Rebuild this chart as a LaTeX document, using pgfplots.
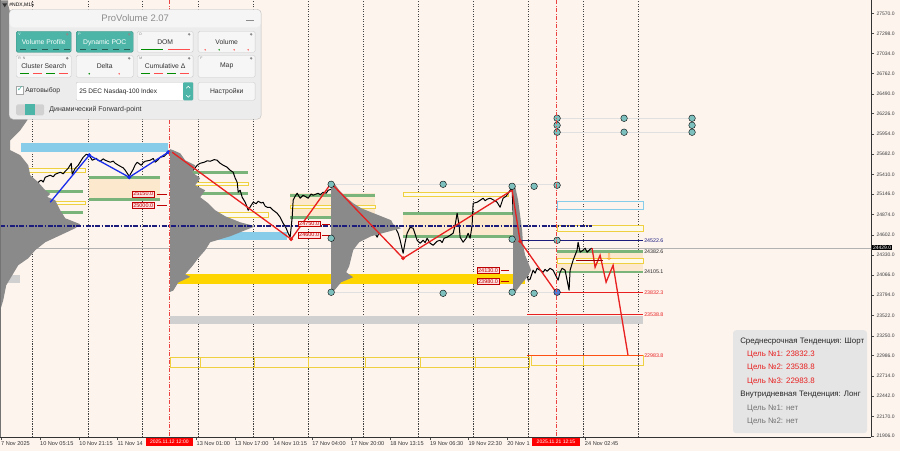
\documentclass[border=0pt]{standalone}
\usepackage{pgfplots}
\pgfplotsset{compat=1.18}
\usepackage{fontspec}
\setmainfont{Liberation Sans}
\newfontfamily\dejavu{DejaVu Sans}

\definecolor{bgc}{RGB}{253,244,238}
\definecolor{beige}{RGB}{252,232,204}
\definecolor{greenz}{RGB}{122,180,122}
\definecolor{yelz}{RGB}{238,208,64}
\definecolor{goldz}{RGB}{255,213,0}
\definecolor{skyz}{RGB}{135,204,232}
\definecolor{grayz}{RGB}{208,208,208}
\definecolor{profz}{RGB}{138,138,138}
\definecolor{navyz}{RGB}{28,28,125}
\definecolor{bluez}{RGB}{25,45,235}
\definecolor{redz}{RGB}{232,32,32}
\definecolor{orz}{RGB}{255,80,20}
\definecolor{tealz}{RGB}{125,192,190}
\definecolor{panelbg}{RGB}{236,236,236}
\definecolor{btn}{RGB}{246,246,246}
\definecolor{tealb}{RGB}{76,181,167}

% rectangle zone / horizontal level in axis units (x = bar position, y = price)
\newcommand{\zone}[5]{\addplot[#5] coordinates {(#1,#3) (#2,#3) (#2,#4) (#1,#4)} -- cycle;}
\newcommand{\hl}[4]{\addplot[#4] coordinates {(#1,#3) (#2,#3)};}
\newcommand{\tk}{\fontsize{5}{5}\selectfont}
\newcommand{\xtk}{\fontsize{5.6}{6}\selectfont}
\newcommand{\bff}{\fontsize{6.8}{7}\selectfont}

\begin{document}
\begin{tikzpicture}
\fill[bgc] (0pt,-14pt) rectangle (900pt,437pt);
\begin{axis}[
  at={(0pt,0pt)}, anchor=south west,
  width=871pt, height=437pt, scale only axis,
  xmin=0, xmax=871, ymin=21893, ymax=27744,
  scaled y ticks=false, scaled x ticks=false,
  axis x line*=bottom, axis y line*=right,
  axis line style={black!80, line width=0.5pt, -},
  tick align=outside, major tick length=3pt,
  tick style={black!70, line width=0.4pt},
  ytick={21906,22170,22442,22714,22986,23250,23522,23794,24066,24330,24602,24874,25146,25410,25682,25954,26226,26490,26762,27034,27298,27570},
  yticklabels={21906.0,22170.0,22442.0,22714.0,22986.0,23250.0,23522.0,23794.0,24066.0,24330.0,24602.0,24874.0,25146.0,25410.0,25682.0,25954.0,26226.0,26490.0,26762.0,27034.0,27298.0,27570.0},
  y tick label style={font=\tk, text=black!75, xshift=-1pt},
  xtick={0.7,39.7,79,117.3,156,196.3,234.7,273.3,312,350.7,390,429.7,468.3,507,546,584.7},
  xticklabels={7 Nov 2025,10 Nov 05:15,10 Nov 21:15,11 Nov 14,{},13 Nov 01:00,13 Nov 17:00,14 Nov 10:15,17 Nov 04:00,17 Nov 20:00,18 Nov 13:15,19 Nov 06:30,19 Nov 22:30,20 Nov 1,{},24 Nov 02:45},
  x tick label style={anchor=north west, font=\xtk, text=black!80, xshift=-1pt, inner sep=1pt},
  extra x ticks={32,87.5,142.5,198,253.5,308.5,363,418,473.5,528.5,583.5,638.5},
  extra x tick labels={},
  extra x tick style={grid=major, major tick length=0pt,
    major grid style={black!75, dash pattern=on 1.2pt off 1.3pt, line width=0.45pt}},
]
% beige zones
\zone{89}{160}{25388}{25066}{fill=beige, draw=none}
\zone{290}{375}{25160}{24825}{fill=beige, draw=none}
\zone{403}{517}{24905}{24571}{fill=beige, draw=none}
\zone{557}{643}{24382.6}{24105.1}{fill=beige, draw=none}
% colour bands
\zone{21}{168}{25829}{25709}{fill=skyz, draw=none}
\zone{170}{287}{24638}{24530}{fill=skyz, draw=none}
\zone{170}{525}{24075}{23941}{fill=goldz, draw=none}
\zone{170}{643}{23520}{23410}{fill=grayz, draw=none}
\zone{0}{20}{24062}{23955}{fill=grayz, draw=none}
% yellow outlines
\zone{28}{85}{25494}{25441}{draw=yelz, line width=0.8pt, fill=yelz!10}
\zone{47}{85}{25053}{25012}{draw=yelz, line width=0.8pt, fill=yelz!10}
\zone{180}{248}{25307}{25267}{draw=yelz, line width=0.8pt, fill=yelz!10}
\zone{200}{268}{24905}{24838}{draw=yelz, line width=0.8pt, fill=yelz!10}
\zone{290}{375}{24999}{24959}{draw=yelz, line width=0.8pt, fill=yelz!10}
\zone{403}{508}{25173}{25120}{draw=yelz, line width=0.8pt, fill=yelz!10}
\zone{557}{643}{24731}{24651}{draw=yelz, line width=0.8pt, fill=yelz!10}
\zone{557}{643}{24289}{24222}{draw=yelz, line width=0.8pt, fill=yelz!10}
\zone{557}{643}{25053}{24945}{draw=skyz, line width=0.8pt}
\zone{170}{200}{22964}{22830}{draw=yelz, line width=0.7pt}
\zone{200}{254}{22964}{22830}{draw=yelz, line width=0.7pt}
\zone{254}{308}{22964}{22830}{draw=yelz, line width=0.7pt}
\zone{308}{365}{22964}{22830}{draw=yelz, line width=0.7pt}
\zone{365}{420}{22964}{22830}{draw=yelz, line width=0.7pt}
\zone{420}{475}{22964}{22830}{draw=yelz, line width=0.7pt}
\zone{475}{529}{22964}{22830}{draw=yelz, line width=0.7pt}
\zone{531}{583}{22990}{22857}{draw=yelz, line width=0.7pt}
\zone{583}{643}{22990}{22857}{draw=yelz, line width=0.7pt}
% green levels
\hl{89}{160}{25374}{greenz, line width=2.8pt}
\hl{89}{160}{25080}{greenz, line width=2.8pt}
\hl{38}{83}{25187}{greenz, line width=2.8pt}
\hl{45}{83}{24905}{greenz, line width=2.8pt}
\hl{180}{248}{25441}{greenz, line width=2.8pt}
\hl{180}{248}{25160}{greenz, line width=2.8pt}
\hl{290}{375}{25133}{greenz, line width=2.8pt}
\hl{290}{375}{24838}{greenz, line width=2.8pt}
\hl{403}{513}{24892}{greenz, line width=2.8pt}
\hl{403}{513}{24584}{greenz, line width=2.8pt}
\hl{557}{643}{24382.6}{greenz, line width=2.8pt}
\hl{557}{643}{24105.1}{greenz, line width=2.8pt}
% thin grey levels
\hl{0}{871}{24429}{black!30, line width=0.5pt}
\hl{557}{692}{26164}{black!12, line width=1pt}
\hl{557}{692}{25977}{black!12, line width=1pt}
\hl{331}{557}{25280}{black!12, line width=1pt}
\hl{331}{557}{23834}{black!12, line width=1pt}
% price
\addplot[black, line width=1pt, line join=round] coordinates {
(37,25280) (39,25320) (41,25334) (43,25310) (45,25374) (50,25401) (53,25380) (55,25414) (60,25441) (63,25420) (65,25454) (68,25494)
(71,25561) (72,25414) (75,25494) (78,25535) (81,25600) (83,25642) (86,25682) (89,25669) (92,25602)
(96,25628) (98,25600) (100,25588) (103,25620) (105,25602) (110,25575) (113,25590) (115,25561) (120,25521) (123,25500) (125,25468) (129,25387)
(133,25481) (135,25540) (137,25575) (141,25535) (143,25570) (145,25588) (150,25602) (153,25625) (155,25575) (158,25610) (160,25642) (164,25655)
(168,25709) (172,25695) (176,25669) (180,25669) (183,25575) (186,25468) (190,25494) (193,25468)
(197,25535) (200,25561) (204,25575) (207,25595) (210,25588) (214,25610) (217,25602) (220,25561) (223,25535) (227,25508)
(230,25468) (233,25441) (235,25361) (237,25307) (238,25173) (240,25200) (242,25106) (245,25039)
(247,24972) (248,24932) (251,24999) (253,25039) (256,25020) (258,25053) (261,25030) (263,25039) (265,24986) (267,24972)
(270,24972) (273,24932) (277,24892) (280,24838) (283,24758) (286,24691) (288,24624) (290,24571)
(291,24704) (292,24838) (293,25066) (295,25120) (297,25160) (300,25093) (303,25133) (306,25110) (308,25093) (311,25150) (313,25133)
(318,25160) (320,25140) (323,25173) (326,25160) (328,25200) (331,25213) (335,25133) (340,24999) (343,24959) (347,24986)
(350,24932) (354,24878) (357,24798) (360,24825) (363,24798) (367,24745) (370,24731) (373,24664)
(377,24571) (380,24664) (383,24704) (387,24771) (390,24758) (393,24718) (395,24704) (398,24624)
(400,24530) (403,24356) (405,24504) (407,24624) (410,24704) (413,24691) (415,24611) (417,24530)
(420,24490) (423,24530) (425,24500) (427,24557) (430,24490) (433,24463) (437,24517) (440,24530) (442,24500) (444,24557)
(447,24571) (450,24597) (453,24624) (455,24731) (457,24892) (459,24731) (460,24571) (463,24504)
(466,24557) (468,24624) (470,24557) (472,24731) (473,25026) (477,25039) (480,25066) (483,25093)
(485,25060) (487,25080) (490,25093) (494,25066) (497,25039) (500,24972) (503,25093) (506,25120) (508,25160)
(510,25200) (512,25227) (513,24892) (515,24664) (518,24356) (520,24262) (522,24289) (525,24129)
(527,24088) (528,23995) (530,24008) (533,24129) (535,24090) (537,24155) (540,24129) (543,24102) (545,24140) (547,24115)
(550,24155) (553,24129) (555,24075) (558,23995) (560,24102) (562,24155) (565,24129) (567,23995)
(569,23861) (570,24129) (573,24262) (575,24330) (577,24397) (578,24504) (580,24370) (583,24397)
(585,24424) (587,24370) (590,24410) (592,24424)};
% volume profiles
\addplot[fill=profz, draw=none] coordinates {
(0,27744) (8,27744) (8,27677) (12,27476) (15,27208) (22,26941) (30,26740) (35,26539) (27,26405)
(30,26271) (27,26137) (20,26003) (10,25869) (10,25736) (20,25669) (28,25535) (30,25401) (38,25307)
(45,25200) (50,25150) (47,25110) (55,25066) (60,24932) (65,24825) (80,24745) (75,24691) (60,24597)
(45,24504) (35,24397) (28,24289) (18,24196) (12,24062) (6,23928) (3,23727) (0,23593)} -- cycle;
\addplot[fill=profz, draw=none] coordinates {
(170,25750) (173,25736) (180,25695) (185,25602) (195,25535) (192,25441) (200,25361) (195,25267)
(205,25200) (200,25106) (208,25026) (215,24932) (225,24852) (240,24771) (255,24718) (245,24664)
(230,24584) (210,24504) (205,24397) (198,24289) (192,24182) (185,24075) (190,24040) (178,23964)
(173,23855) (170,23840)} -- cycle;
\addplot[fill=profz, draw=none] coordinates {
(331,25300) (334,25294) (339,25200) (346,25106) (353,25026) (361,24959) (371,24905) (381,24852)
(391,24798) (393,24745) (401,24691) (386,24638) (371,24584) (359,24504) (353,24397) (351,24289)
(349,24182) (346,24102) (353,24035) (341,23968) (334,23855) (331,23840)} -- cycle;
\addplot[fill=profz, draw=none] coordinates {
(513,25260) (515,25253) (518,25066) (520,24865) (522,24664) (523,24463) (525,24330) (528,24236)
(531,24129) (527,24035) (521,23941) (515,23834) (513,23820)} -- cycle;
% dynamic POC
\hl{0}{592}{24718}{navyz, line width=2.2pt, dash pattern=on 5pt off 1.5pt on 1.5pt off 1.5pt}
\hl{520}{643}{24522.6}{navyz, line width=1pt}
% zigzags
\addplot[bluez, line width=1.3pt] coordinates {(50,25039) (89,25669) (129,25374) (168,25709)};
\addplot[only marks, mark=*, mark size=1.8pt, bluez] coordinates {(89,25669) (129,25374) (168,25709)};
\addplot[redz, line width=1.3pt] coordinates {(172,25709) (291,24544) (331,25294) (403,24289) (512,25200) (520,24517) (556,23834)};
\addplot[only marks, mark=*, mark size=1.8pt, redz] coordinates {(291,24544) (403,24289) (520,24517)};
\addplot[redz, line width=1.3pt] coordinates {(592,24424) (595,24169) (600,24330) (606,23968) (613,24196) (628,22984)};
\hl{576}{603}{24262}{red!60!black, line width=0.8pt}
% target levels
\hl{557}{643}{23832.3}{redz, line width=1.4pt}
\hl{527}{643}{23538.8}{redz, line width=1.4pt}
\hl{527}{643}{22983.8}{orz, line width=1.4pt}
% anchor dots
\addplot[only marks, mark=*, mark size=3.3pt, mark options={fill=tealz, draw=none}] coordinates {
(557,26164) (624,26164) (692,26164) (557,26070) (692,26070) (557,25977) (624,25977) (692,25977)
(331,25280) (443,25280) (512,25253) (534,25253) (557,25267)
(331,23834) (443,23820) (512,23834) (534,23820)
(331,24557) (512,24544) (557,24530)};
\addplot[only marks, mark=*, mark size=3.3pt, mark options={fill=blue!35!tealz, draw=none}] coordinates {(557,23834)};
% price labels
\tikzset{lbl/.style={fill=red!12, draw=red!75!black, text=red!75!black, font=\fontsize{5.5}{6}\selectfont, inner sep=0.8pt, line width=0.4pt}}
\hl{157}{167}{25150}{red!75!black, line width=0.5pt}
\hl{157}{167}{25000}{red!75!black, line width=0.5pt}
\hl{322}{330}{24750}{red!75!black, line width=0.5pt}
\hl{322}{330}{24600}{red!75!black, line width=0.5pt}
\hl{501}{509}{24130}{red!75!black, line width=0.5pt}
\hl{501}{509}{23980}{red!75!black, line width=0.5pt}
\node[lbl] at (axis cs:143,25150) {25150.0};
\node[lbl] at (axis cs:143,25000) {25000.0};
\node[lbl] at (axis cs:309,24750) {24750.0};
\node[lbl] at (axis cs:309,24600) {24600.0};
\node[lbl] at (axis cs:488,24130) {24130.0};
\node[lbl] at (axis cs:488,23980) {23980.0};
\tikzset{lv/.style={anchor=west, font=\fontsize{5.3}{6}\selectfont, inner sep=1pt}}
\node[lv, text=navyz] at (axis cs:643,24522.6) {24522.6};
\node[lv, text=black!85] at (axis cs:643,24382.6) {24382.6};
\node[lv, text=black!85] at (axis cs:643,24105.1) {24105.1};
\node[lv, text=redz] at (axis cs:643,23832.3) {23832.3};
\node[lv, text=redz] at (axis cs:643,23538.8) {23538.8};
\node[lv, text=redz] at (axis cs:643,22983.8) {22983.8};
\node[text=orz!70!yellow, font=\dejavu\fontsize{9}{9}\selectfont, inner sep=0pt] at (axis cs:609,24302) {⇩};
\end{axis}

\begin{scope}[x=1pt, y=-1pt, shift={(0pt,437pt)}]
% session lines
\draw[redz!85, dash pattern=on 4pt off 1.5pt on 1pt off 1.5pt, line width=0.6pt] (169.5,0) -- (169.5,437);
\draw[redz!85, dash pattern=on 4pt off 1.5pt on 1pt off 1.5pt, line width=0.6pt] (556.5,0) -- (556.5,437);
\draw[black!55, line width=0.6pt] (0.5,0) -- (0.5,437);
% date flags and current price
\node[fill=red, text=white, font=\tk, inner sep=1pt, minimum width=47pt, minimum height=8pt] at (169.2,442) {2025.11.12 12:00};
\node[fill=red, text=white, font=\tk, inner sep=1pt, minimum width=48pt, minimum height=8pt] at (555.9,442) {2025.11.21 12:15};
\node[fill=black, text=white, font=\tk, inner sep=0.8pt, anchor=west] at (872,247.5) {24429.0};
% symbol caption
\fill[black!80] (2,3) -- (7,3) -- (4.5,7) -- cycle;
\node[anchor=west, font=\fontsize{5}{5}\selectfont, inner sep=0pt] at (9,5) {\#NDX,M15};
% ProVolume panel
\fill[panelbg, draw=black!25, rounded corners=4pt] (9,9) rectangle (261,119);
\fill[black!4, rounded corners=4pt] (9.5,9.5) rectangle (260.5,27);
\node[font=\fontsize{9.5}{10}\selectfont, text=black!45] at (135,17.5) {ProVolume 2.07};
\draw[black!45, line width=0.8pt] (246,20) -- (254,20);
% row 1
\filldraw[fill=tealb, draw=tealb!80!black, rounded corners=1.5pt] (16,31) rectangle (71,52);
\filldraw[fill=tealb, draw=tealb!80!black, rounded corners=1.5pt] (76,31) rectangle (133,52);
\filldraw[fill=btn, draw=black!20, rounded corners=1.5pt] (137,31) rectangle (193,52);
\filldraw[fill=btn, draw=black!20, rounded corners=1.5pt] (198,31) rectangle (255,52);
\node[text=white, font=\bff] at (43.5,42) {Volume Profile};
\node[text=white, font=\bff] at (104.5,42) {Dynamic POC};
\node[text=black!80, font=\bff] at (165,42) {DOM};
\node[text=black!80, font=\bff] at (226.5,42) {Volume};
% row 2
\filldraw[fill=btn, draw=black!20, rounded corners=1.5pt] (16,55) rectangle (71,77);
\filldraw[fill=btn, draw=black!20, rounded corners=1.5pt] (76,55) rectangle (133,77);
\filldraw[fill=btn, draw=black!20, rounded corners=1.5pt] (137,55) rectangle (193,77);
\filldraw[fill=btn, draw=black!20, rounded corners=1.5pt] (198,55) rectangle (255,77);
\node[text=black!80, font=\bff] at (43.5,65.5) {Cluster Search};
\node[text=black!80, font=\bff] at (104.5,65.5) {Delta};
\node[text=black!80, font=\bff] at (165,65.5) {Cumulative Δ};
\node[text=black!80, font=\bff] at (226.5,65.5) {Map};
% small corner marks
\node[font=\fontsize{3.5}{4}\selectfont, text=white, anchor=west, inner sep=0pt] at (18,34) {V};
\node[font=\fontsize{3.5}{4}\selectfont, text=white, anchor=west, inner sep=0pt] at (78,34) {P};
\node[font=\fontsize{3.5}{4}\selectfont, text=black!50, anchor=west, inner sep=0pt] at (139,34) {D};
\node[font=\fontsize{3.5}{4}\selectfont, text=black!50, anchor=west, inner sep=0pt] at (18,58) {R\ \ N};
\node[font=\fontsize{3.5}{4}\selectfont, text=black!50, anchor=west, inner sep=0pt] at (139,58) {M};
\node[font=\fontsize{3.5}{4}\selectfont, text=black!50, anchor=west, inner sep=0pt] at (200,58) {F};
\foreach \x in {67,129,189,251}{\fill[black!45] (\x,34) circle (1.3pt); \fill[black!45] (\x,58) circle (1.3pt);}
\foreach \x in {20,31,42,53,64}{\draw[tealb!50!black, line width=0.7pt] (\x,49.5) -- (\x+6,49.5);}
\foreach \x in {80,91,102,113,124}{\draw[tealb!50!black, line width=0.7pt] (\x,49.5) -- (\x+6,49.5);}
\draw[green!55!black, line width=0.6pt] (141,49.5) -- (163,49.5);
\draw[red!70, line width=0.6pt] (168,49.5) -- (190,49.5);
\fill[red!70] (205,49.5) circle (0.8pt); \fill[green!55!black] (219,49.5) circle (0.8pt);
\fill[red!70] (234,49.5) circle (0.8pt); \fill[red!70] (248,49.5) circle (0.8pt);
\foreach \x/\c in {20/green!55!black,33/red!70,46/green!55!black,59/red!70,141/green!55!black,154/red!70,167/green!55!black,180/red!70}{\draw[\c, line width=0.6pt] (\x,73.5) -- (\x+9,73.5);}
\fill[green!55!black] (89,73.5) circle (0.8pt); \fill[red!70] (119,73.5) circle (0.8pt);
% row 3
\filldraw[fill=white, draw=black!35] (16,86) rectangle (23,94);
\node[text=tealb, font=\dejavu\fontsize{8}{8}\selectfont, inner sep=0pt] at (20,88.5) {✓};
\node[anchor=west, font=\bff, text=black!80, inner sep=0pt] at (25,90.5) {Автовыбор};
\filldraw[fill=white, draw=black!22, rounded corners=1pt] (76,82) rectangle (193,100);
\node[anchor=west, font=\fontsize{6.5}{7}\selectfont, text=black!85, inner sep=0pt] at (79,91.5) {25 DEC Nasdaq-100 Index};
\fill[tealb, rounded corners=1pt] (183,82) rectangle (193,100);
\draw[white, line width=0.5pt] (186,88) -- (188,86) -- (190,88);
\draw[white, line width=0.5pt] (186,95) -- (188,97) -- (190,95);
\filldraw[fill=btn, draw=black!20, rounded corners=1.5pt] (198,82) rectangle (255,100);
\node[text=black!80, font=\bff] at (226.5,91.5) {Настройки};
% row 4
\fill[black!18, rounded corners=1.5pt] (16,104) rectangle (44,115);
\fill[tealb] (25,104) rectangle (35,115);
\node[anchor=west, font=\fontsize{7}{7}\selectfont, text=black!80, inner sep=0pt] at (49,109.5) {Динамический Forward-point};
% trend box
\fill[black!10, rounded corners=3pt] (733,330) rectangle (867,433);
\tikzset{tb/.style={anchor=west, font=\fontsize{7.9}{9}\selectfont, inner sep=0pt}}
\node[tb, text=black!85] at (740,341) {Среднесрочная Тенденция: Шорт};
\node[tb, text=redz] at (747,354) {Цель №1: 23832.3};
\node[tb, text=redz] at (747,367.5) {Цель №2: 23538.8};
\node[tb, text=redz] at (747,381) {Цель №3: 22983.8};
\node[tb, text=black!85] at (740,394.5) {Внутридневная Тенденция: Лонг};
\node[tb, text=black!55] at (747,408) {Цель №1: нет};
\node[tb, text=black!55] at (747,421.5) {Цель №2: нет};
\end{scope}
\end{tikzpicture}
\end{document}
